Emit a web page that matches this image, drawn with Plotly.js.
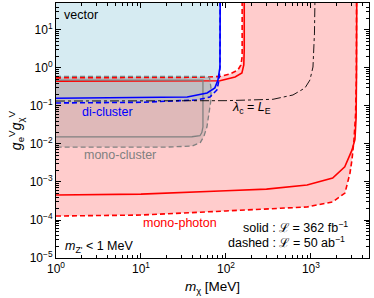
<!DOCTYPE html>
<html><head><meta charset="utf-8">
<script src="https://cdn.plot.ly/plotly-3.0.1.min.js"></script>
<style>html,body{margin:0;padding:0;background:#fff}#c{width:374px;height:298px}</style>
</head><body><div id="c"></div>
<script>
// mono-photon, solid (362 fb^-1): lower/right boundary and upper boundary
const photonSolidLowX = [1, 10, 100, 300, 900, 1800, 2500, 3036, 3293, 3400, 3440, 3460];
const photonSolidLowY = [4.55e-4, 4.8e-4, 5.9e-4, 6.5e-4, 8.3e-4, 1.27e-3, 2.5e-3, 6.9e-3, 0.013, 0.05, 1, 60];
const photonSolidUpX = [1, 40, 85, 128, 154, 162, 164, 164];
const photonSolidUpY = [0.45, 0.45, 0.46, 0.58, 0.74, 1.2, 3, 60];
// mono-photon, dashed (50 ab^-1)
const photonDashLowX = [1, 10, 100, 300, 900, 1800, 2512, 2877, 3036, 3200, 3350, 3420, 3440];
const photonDashLowY = [1.27e-4, 1.35e-4, 1.73e-4, 1.95e-4, 2.2e-4, 3.0e-4, 5.1e-4, 1.7e-3, 3.8e-3, 0.012, 0.06, 0.5, 60];
const photonDashUpX = [1, 50, 85, 111, 138, 150, 155, 155];
const photonDashUpY = [0.55, 0.57, 0.6, 0.695, 0.885, 1.2, 2, 60];
// di-cluster
const diSolidX = [1, 10, 35, 60, 74, 80.5, 85, 85.5];
const diSolidY = [0.16, 0.163, 0.172, 0.22, 0.30, 0.48, 1.06, 60];
const diDashX = [1, 10, 45.6, 64.8, 78.3, 82.8, 85, 85.5];
const diDashY = [0.12, 0.125, 0.144, 0.172, 0.264, 0.48, 1.06, 60];
// mono-cluster
const monoSolidX = [1, 53.6, 53.6, 52, 49.4, 39.8, 1];
const monoSolidY = [0.48, 0.48, 0.028, 0.02, 0.0165, 0.0155, 0.0153];
const monoDashX = [1, 60, 64, 66.6, 66.6, 62, 59.7, 55, 50, 40, 20, 1];
const monoDashY = [0.6, 0.6, 0.56, 0.3, 0.144, 0.05, 0.028, 0.016, 0.011, 0.0088, 0.0083, 0.0083];
// lambda_c = L_E
const lambdaX = [1, 100, 357, 614, 850, 973, 1056, 1100, 1114];
const lambdaY = [0.135, 0.138, 0.15, 0.195, 0.298, 0.483, 1.06, 8.3, 60];

const xTickVals = [1, 10, 100, 1000];
const xTickText = ['10<sup>0</sup>', '10<sup>1</sup>', '10<sup>2</sup>', '10<sup>3</sup>'];
const yTickVals = [1e-5, 1e-4, 1e-3, 1e-2, 1e-1, 1, 10];
const yTickText = ['10<sup>−5</sup>', '10<sup>−4</sup>', '10<sup>−3</sup>', '10<sup>−2</sup>', '10<sup>−1</sup>', '10<sup>0</sup>', '10<sup>1</sup>'];

const TOP = 60;
function region(lowX, lowY, upX, upY) {
  const x = lowX.concat([lowX[lowX.length-1]], upX.slice().reverse());
  const y = lowY.concat([TOP], upY.slice().reverse());
  return {x, y};
}
const rs = region(photonSolidLowX, photonSolidLowY, photonSolidUpX, photonSolidUpY);
const rd = region(photonDashLowX, photonDashLowY, photonDashUpX, photonDashUpY);
const blueFillX = diDashX.concat([1]);
const blueFillY = diDashY.concat([TOP]);

const pink = '#ffcccc';
const traces = [
  {x: rd.x, y: rd.y, fill: 'toself', fillcolor: pink, line: {width: 0}, mode: 'lines', hoverinfo: 'skip'},
  {x: rs.x, y: rs.y, fill: 'toself', fillcolor: pink, line: {width: 0}, mode: 'lines', hoverinfo: 'skip'},
  {x: blueFillX, y: blueFillY, fill: 'toself', fillcolor: 'rgba(173,216,230,0.5)', line: {width: 0}, mode: 'lines'},
  {x: monoDashX, y: monoDashY, fill: 'toself', fillcolor: 'rgba(128,128,128,0.25)', line: {width: 0}, mode: 'lines'},
  {x: photonSolidLowX, y: photonSolidLowY, mode: 'lines', line: {color: '#ff0000', width: 1.6}},
  {x: photonSolidUpX, y: photonSolidUpY, mode: 'lines', line: {color: '#ff0000', width: 1.6}},
  {x: photonDashLowX, y: photonDashLowY, mode: 'lines', line: {color: '#ff0000', width: 1.6, dash: '5px,3px'}},
  {x: photonDashUpX, y: photonDashUpY, mode: 'lines', line: {color: '#ff0000', width: 1.6, dash: '5px,3px'}},
  {x: monoSolidX, y: monoSolidY, mode: 'lines', line: {color: '#808080', width: 1.3}},
  {x: monoDashX, y: monoDashY, mode: 'lines', line: {color: '#808080', width: 1.3, dash: '5px,3px'}},
  {x: diSolidX, y: diSolidY, mode: 'lines', line: {color: '#0000ff', width: 1.6}},
  {x: diDashX, y: diDashY, mode: 'lines', line: {color: '#0000ff', width: 1.6, dash: '5px,3px'}},
  {x: lambdaX, y: lambdaY, mode: 'lines', line: {color: '#000000', width: 0.9, dash: 'dashdot'}}
];

const F = 'Liberation Sans, Arial, sans-serif';
function ann(text, x, y, color, xanchor) {
  return {text, x, y, xref: 'paper', yref: 'paper', showarrow: false, xanchor: xanchor || 'center', yanchor: 'middle',
          font: {family: F, size: 12.5, color: color}};
}
const layout = {
  width: 374, height: 298,
  margin: {l: 56, r: 5, t: 3, b: 40},
  paper_bgcolor: '#fff', plot_bgcolor: '#fff',
  showlegend: false,
  font: {family: F, size: 12, color: '#000'},
  xaxis: {
    type: 'log', range: [0, 3.683], tickmode: 'array', tickvals: xTickVals, ticktext: xTickText,
    ticks: 'inside', ticklen: 5, tickcolor: '#000', showline: true, linecolor: '#000', linewidth: 1, mirror: 'ticks',
    showgrid: false, zeroline: false,
    minor: {ticks: 'inside', ticklen: 3, dtick: 'D1', tickcolor: '#000', showgrid: false},
    tickfont: {family: F, size: 12},
    title: {text: '<i>m</i><sub>χ</sub> [MeV]', font: {family: F, size: 13.5}, standoff: 6}
  },
  yaxis: {
    type: 'log', range: [-5, 1.71], tickmode: 'array', tickvals: yTickVals, ticktext: yTickText,
    ticks: 'inside', ticklen: 5, tickcolor: '#000', showline: true, linecolor: '#000', linewidth: 1, mirror: 'ticks',
    showgrid: false, zeroline: false,
    minor: {ticks: 'inside', ticklen: 3, dtick: 'D1', tickcolor: '#000', showgrid: false},
    tickfont: {family: F, size: 12},
    title: {text: '<i>g</i><sub>e</sub><sup>V</sup><i>g</i><sub>χ</sub><sup>V</sup>', font: {family: F, size: 14}, standoff: 4}
  },
  annotations: [
    ann('vector', 0.019, 0.953, '#000', 'left'),
    ann('di-cluster', 0.165, 0.573, '#0000ff'),
    ann('mono-cluster', 0.203, 0.404, '#808080'),
    ann('mono-photon', 0.395, 0.137, '#ff0000'),
    ann('<i>λ</i><sub>c</sub> = <i>L</i><sub>E</sub>', 0.556, 0.59, '#000', 'left'),
    ann('<i>m</i><sub>Z\'</sub> &lt; 1 MeV', 0.022, 0.043, '#000', 'left'),
    ann('solid : ℒ = 362 fb<sup>−1</sup>', 0.939, 0.122, '#000', 'right'),
    ann('dashed : ℒ = 50 ab<sup>−1</sup>', 0.93, 0.063, '#000', 'right')
  ]
};
Plotly.newPlot('c', traces, layout, {staticPlot: true, displayModeBar: false});
</script>
</body></html>
